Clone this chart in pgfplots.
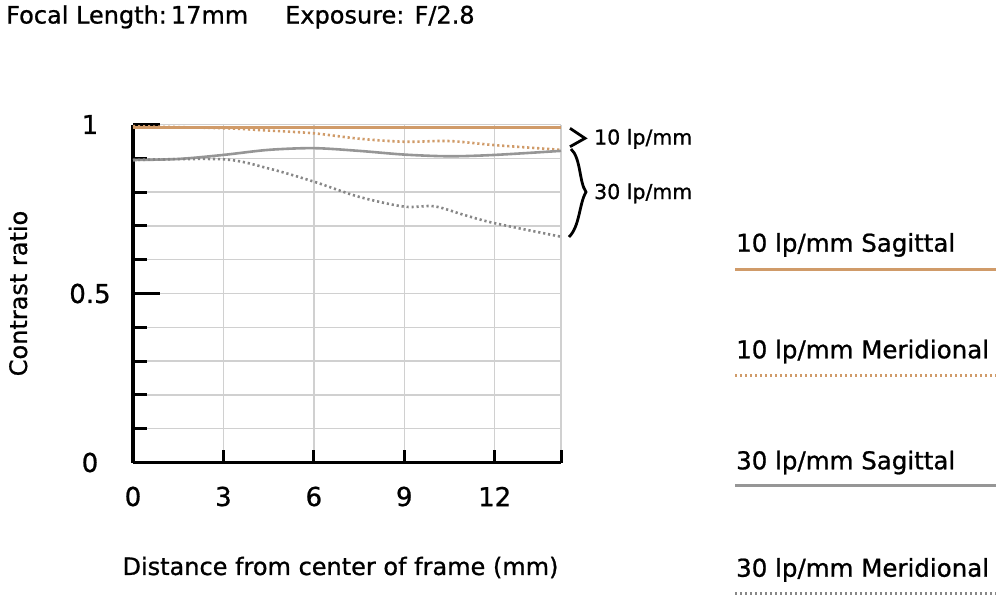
\documentclass[border=0pt]{standalone}
\usepackage{fontspec}
\setmainfont{DejaVu Sans}[UprightFeatures={FakeBold=0.9}]
\usepackage{pgfplots}
\pgfplotsset{compat=1.18}

\definecolor{mtforange}{RGB}{208,155,105}
\definecolor{mtfgray}{RGB}{150,150,150}
\definecolor{mtfgrid}{RGB}{208,208,208}

\tikzset{mtfdot/.style={line width=2.6bp, line cap=butt, dash pattern=on 2.2bp off 2.8bp}}

\begin{document}
\begin{tikzpicture}
\path[use as bounding box] (0,0) rectangle (1000bp,-600bp);

\begin{axis}[
    at={(133bp,-462.5bp)}, anchor=south west,
    scale only axis,
    width=428bp, height=338bp,
    xmin=0, xmax=14.2, ymin=0, ymax=1,
    axis x line*=bottom, axis y line*=left,
    axis line style={black, line width=3.2bp},
    xtick={0,3,6,9,12,14.2},
    xticklabels={0,3,6,9,12,{}},
    ytick={0,0.5,1},
    yticklabels={0,0.5,1},
    minor ytick={0.1,0.2,0.3,0.4,0.6,0.7,0.8,0.9},
    tick align=inside,
    major tick length=27bp, minor tick length=14bp,
    xtick style={/pgfplots/major tick length=13bp},
    tick style={black, line width=3bp},
    xmajorgrids, ymajorgrids, yminorgrids,
    major grid style={draw=mtfgrid, line width=1.4bp},
    minor grid style={draw=mtfgrid, line width=1.4bp},
    /pgf/number format/assume math mode=true,
    tick label style={font=\fontsize{26bp}{30bp}\selectfont},
    xticklabel style={anchor=center, yshift=-34bp},
    yticklabel style={anchor=center, xshift=-43bp},
    xlabel={Distance from center of frame (mm)},
    xlabel style={at={(axis description cs:0.4848,-0.3328)}, anchor=base,
                  font=\fontsize{24bp}{28bp}\selectfont},
    ylabel={Contrast ratio},
    ylabel style={at={(axis description cs:-0.2477,0.5)}, anchor=base, rotate=0,
                  font=\fontsize{24bp}{28bp}\selectfont},
    clip=false,
]
% 10 lp/mm sagittal
\addplot[mtforange, line width=2.8bp, smooth] coordinates {
    (0,0.991) (3,0.991) (6,0.991) (9,0.991) (12,0.991) (14.2,0.991)
};
% 10 lp/mm meridional
\addplot[mtforange, mtfdot, smooth] coordinates {
    (0,0.995) (3,0.989) (4.5,0.982) (6,0.974) (7.5,0.958) (9,0.949)
    (10.5,0.951) (12,0.939) (14.2,0.925)
};
% 30 lp/mm sagittal
\addplot[mtfgray, line width=2.6bp, smooth] coordinates {
    (0,0.895) (1.5,0.898) (3,0.91) (4.5,0.925) (6,0.93) (7.5,0.922)
    (9,0.911) (10.5,0.906) (12,0.91) (14.2,0.922)
};
% 30 lp/mm meridional
\addplot[mtfgray!90!black, mtfdot, smooth] coordinates {
    (0,0.895) (3,0.897) (4.5,0.870) (6,0.831) (7.5,0.786) (9,0.757)
    (10,0.758) (11,0.732) (12,0.708) (14.2,0.668)
};
\end{axis}

\begin{scope}[x=1bp, y=-1bp]
% title
\node[anchor=base west, inner sep=0, font=\fontsize{24bp}{28bp}\selectfont]
    at (6,23.5) {Focal Length:\,17mm};
\node[anchor=base west, inner sep=0, font=\fontsize{24bp}{28bp}\selectfont]
    at (285,23.5) {Exposure: F/2.8};

% braces next to the curves
\draw[black, line width=2.8bp, line join=miter] (570,128.3) -- (585,138.3) -- (570,146.7);
\draw[black, line width=2.8bp] (571,149) .. controls (581,158) and (579,182) .. (586,192)
    .. controls (579,204) and (580,226) .. (569,237);
\node[anchor=base west, inner sep=0, font=\fontsize{20.5bp}{24bp}\selectfont]
    at (594,144.5) {10 lp/mm};
\node[anchor=base west, inner sep=0, font=\fontsize{20.5bp}{24bp}\selectfont]
    at (594,199) {30 lp/mm};

% legend
\begin{scope}[every node/.style={anchor=base west, inner sep=0,
        font=\fontsize{24.5bp}{28bp}\selectfont}]
\node at (736,251.7) {10 lp/mm Sagittal};
\draw[mtforange, line width=2.6bp] (735,269.3) -- (996,269.3);
\node at (736,358.3) {10 lp/mm Meridional};
\draw[mtforange, mtfdot] (735,375.5) -- (996,375.5);
\node at (736,469.3) {30 lp/mm Sagittal};
\draw[mtfgray, line width=2.6bp] (735,485.5) -- (996,485.5);
\node at (736,576.7) {30 lp/mm Meridional};
\draw[mtfgray!90!black, mtfdot] (735,593.3) -- (996,593.3);
\end{scope}
\end{scope}
\end{tikzpicture}
\end{document}
